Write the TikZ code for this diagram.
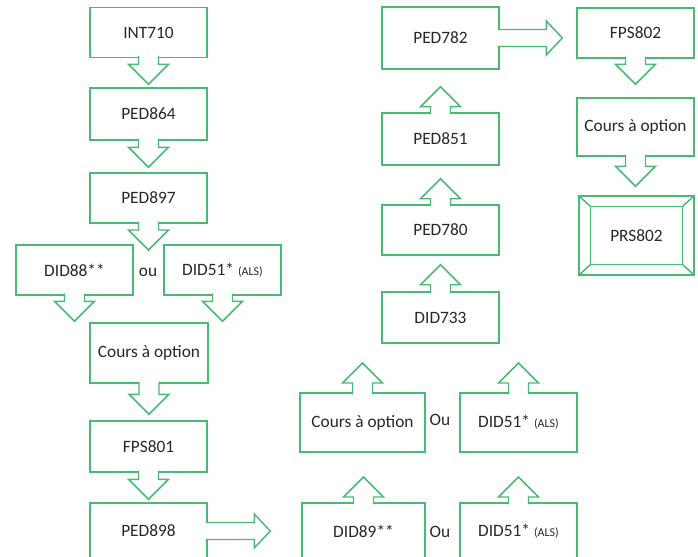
\documentclass[tikz,border=0pt]{standalone}
\usepackage{fontspec}
\setmainfont{Carlito}
\usetikzlibrary{calc}

\definecolor{boxgreen}{RGB}{72,186,116}
\definecolor{txtgray}{RGB}{40,40,40}

\tikzset{
  course/.style={draw=boxgreen, line width=1.1pt, fill=white, text=txtgray,
    minimum width=87.75pt, minimum height=37.5pt, inner sep=0pt,
    font=\fontsize{13}{15}\selectfont},
  blk/.style={draw=boxgreen, line width=1.1pt, fill=white, line join=miter},
  orword/.style={text=txtgray, font=\fontsize{13}{15}\selectfont},
}
\newcommand{\als}{{\fontsize{9}{11}\selectfont(ALS)}}

% hollow block arrows: [gap]{start anchor}{target}
\newcommand{\downblk}[3][3]{%
  \coordinate (tip) at ($(#2|-#3)+(0,-#1)$);
  \filldraw[blk] ($(#2)+(-10,-2)$) -- ($(tip)+(-10,-20)$) -- ($(tip)+(-20,-20)$) -- (tip)
    -- ($(tip)+(20,-20)$) -- ($(tip)+(10,-20)$) -- ($(#2)+(10,-2)$);}
\newcommand{\upblk}[3][3]{%
  \coordinate (tip) at ($(#2|-#3)+(0,#1)$);
  \filldraw[blk] ($(#2)+(-10,2)$) -- ($(tip)+(-10,20)$) -- ($(tip)+(-20,20)$) -- (tip)
    -- ($(tip)+(20,20)$) -- ($(tip)+(10,20)$) -- ($(#2)+(10,2)$);}
\newcommand{\rightblk}[3][3]{%
  \coordinate (tip) at ($(#2-|#3)+(-#1,0)$);
  \filldraw[blk] ($(#2)+(-2,-8.5)$) -- ($(tip)+(-16,-8.5)$) -- ($(tip)+(-16,-17)$) -- (tip)
    -- ($(tip)+(-16,17)$) -- ($(tip)+(-16,8.5)$) -- ($(#2)+(-2,8.5)$);}

\begin{document}
\begin{tikzpicture}[x=0.75pt, y=-0.75pt]
    \useasboundingbox (0,0) rectangle (698,556);
    \clip (0,0) rectangle (698,556);

    % left column
    \node[course] (int710) at (148.5,32.5) {INT710};
    \node[course, minimum height=39pt] (ped864) at (148.5,114) {PED864};
    \node[course] (ped897) at (148.5,198) {PED897};
    \node[course] (did88) at (74.5,270) {DID88**};
    \node[orword] (ou1) at (148,272) {ou};
    \node[course] (did51a) at (222.5,270) {DID51* \als};
    \node[course, minimum width=88.5pt, minimum height=45pt] (coursA) at (149,353) {Cours à option};
    \node[course, minimum height=38.25pt] (fps801) at (148.5,446.5) {FPS801};
    \node[course, minimum height=42pt] (ped898) at (148.5,531) {PED898};

    % middle columns
    \node[course, minimum width=92.25pt, minimum height=42pt] (did89) at (363.5,531) {DID89**};
    \node[orword] (ou3) at (440,532) {Ou};
    \node[course, minimum height=42pt] (did51c) at (518.5,531) {DID51* \als};
    \node[course, minimum width=93.75pt, minimum height=44.25pt] (coursB) at (362.5,422.5) {Cours à option};
    \node[orword] (ou2) at (440,420) {Ou};
    \node[course, minimum height=44.25pt] (did51b) at (518.5,422.5) {DID51* \als};
    \node[course, minimum height=38.25pt] (did733) at (440.5,317.5) {DID733};
    \node[course] (ped780) at (440.5,230) {PED780};
    \node[course, minimum height=39pt] (ped851) at (440.5,139) {PED851};
    \node[course, minimum height=46.5pt] (ped782) at (440.5,38) {PED782};

    % right column
    \node[course] (fps802) at (635.5,33) {FPS802};
    \node[course, minimum height=43.5pt] (coursC) at (635.5,127) {Cours à option};
    \node[course, minimum width=86.25pt, minimum height=59.25pt] (prs802) at (636.5,235.5) {PRS802};
    \draw[boxgreen, line width=1.1pt] ($(prs802.north west)+(12,11)$) rectangle ($(prs802.south east)+(-12,-11)$);
    \draw[boxgreen, line width=1.1pt] (prs802.north west) -- ($(prs802.north west)+(12,11)$);
    \draw[boxgreen, line width=1.1pt] (prs802.north east) -- ($(prs802.north east)+(-12,11)$);
    \draw[boxgreen, line width=1.1pt] (prs802.south west) -- ($(prs802.south west)+(12,-11)$);
    \draw[boxgreen, line width=1.1pt] (prs802.south east) -- ($(prs802.south east)+(-12,-11)$);

    % free arrow ends
    \coordinate (aimOu) at (148.5,250);
    \coordinate (aimLow) at (363,477);
    \coordinate (aimMid) at (363,363);

    \downblk{int710.south}{ped864.north}
    \downblk[5]{ped864.south}{ped897.north}
    \downblk[0]{ped897.south}{aimOu}
    \downblk[1]{did88.south}{coursA.north}
    \downblk[1]{did51a.south}{coursA.north}
    \downblk[6]{coursA.south}{fps801.north}
    \downblk{fps801.south}{ped898.north}
    \rightblk[31]{ped898.east}{did89.west}
    \upblk[0]{did89.north}{aimLow}
    \upblk[0]{did51c.north}{aimLow}
    \upblk[0]{coursB.north}{aimMid}
    \upblk[0]{did51b.north}{aimMid}
    \upblk[9]{did733.north}{ped780.south}
    \upblk[13]{ped780.north}{ped851.south}
    \upblk[17]{ped851.north}{ped782.south}
    \rightblk[14]{ped782.east}{fps802.west}
    \downblk[13]{fps802.south}{coursC.north}
    \downblk[9]{coursC.south}{prs802.north}
\end{tikzpicture}
\end{document}
